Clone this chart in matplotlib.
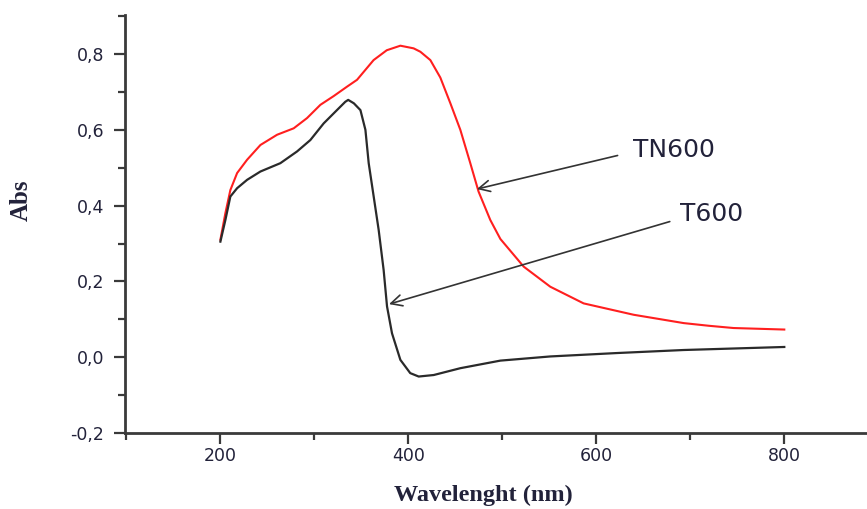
import matplotlib
matplotlib.use("Agg")
import matplotlib.pyplot as plt
from matplotlib.ticker import MultipleLocator, FuncFormatter

# TN600 (red)
tn_x = [200, 205.3, 210.6, 217.8, 228.4, 242.6, 260.3, 278, 292.2, 306.4, 320.5, 334.8, 345.4,
        363, 377, 391.5, 405.6, 412.8, 423.4, 434, 444.7, 455.3, 465.9, 474.7, 487.2, 497.9,
        522.7, 551, 586.5, 639.7, 693, 719.5, 746, 800]
tn_y = [0.310, 0.38, 0.441, 0.486, 0.521, 0.56, 0.587, 0.604, 0.631, 0.666, 0.689, 0.714, 0.732,
        0.784, 0.810, 0.822, 0.815, 0.806, 0.784, 0.738, 0.67, 0.6, 0.512, 0.437, 0.362, 0.312,
        0.239, 0.186, 0.142, 0.112, 0.090, 0.083, 0.077, 0.073]

# T600 (black)
t_x = [200, 205.3, 210.6, 217.8, 228.4, 242.6, 263.8, 281.6, 295.7, 309.9, 324, 332.9, 336,
       342, 349, 354.3, 357.8, 363.1, 368.4, 373.7, 377.3, 382.6, 391.5, 402, 411, 427, 455.3,
       497.9, 551, 622, 693, 800]
t_y = [0.305, 0.362, 0.424, 0.446, 0.468, 0.49, 0.512, 0.543, 0.573, 0.617, 0.652, 0.674, 0.679,
       0.670, 0.652, 0.6, 0.512, 0.424, 0.336, 0.23, 0.134, 0.063, -0.007, -0.042, -0.051, -0.047, -0.029,
       -0.009, 0.002, 0.011, 0.019, 0.027]

x_ticks = [200, 400, 600, 800]
y_ticks = [-0.2, 0.0, 0.2, 0.4, 0.6, 0.8]

TXT = "#22223a"
AXC = "#3a3a3a"

fig = plt.figure(figsize=(8.67, 5.09), dpi=100)
ax = fig.add_axes([125/867, 1-433/509, 1-125/867, (433-15)/509])

ax.plot(tn_x, tn_y, color="#ff1f1f", lw=1.5)
ax.plot(t_x, t_y, color="#2a2a2a", lw=1.6)

ax.set_xlim(98.5, 888)
ax.set_ylim(-0.2, 0.903)

ax.set_xticks(x_ticks)
ax.set_yticks(y_ticks)
ax.xaxis.set_minor_locator(MultipleLocator(100))
ax.yaxis.set_minor_locator(MultipleLocator(0.1))
ax.yaxis.set_major_formatter(FuncFormatter(lambda v, p: f"{v:.1f}".replace(".", ",")))

for s in ["top", "right"]:
    ax.spines[s].set_visible(False)
for s in ["left", "bottom"]:
    ax.spines[s].set_linewidth(2)
    ax.spines[s].set_color(AXC)

ax.tick_params(which="major", direction="out", length=8, width=1.6, color=AXC,
               labelsize=12.5, labelcolor=TXT)
ax.tick_params(axis="y", which="major", pad=7)
ax.tick_params(axis="x", which="major", pad=2)
ax.tick_params(which="minor", direction="out", length=5, width=1.6, color=AXC)
for lab in ax.get_xticklabels() + ax.get_yticklabels():
    lab.set_family("DejaVu Sans")

ax.set_xlabel("Wavelenght (nm)", family="Liberation Serif", fontweight="bold", fontsize=17.5, color=TXT)
ax.set_ylabel("Abs", family="Liberation Serif", fontweight="bold", fontsize=18, color=TXT)
ax.xaxis.set_label_coords((483-125)/(867-125), (433-495)/(433-15))
ax.xaxis.label.set_va("center")
ax.yaxis.set_label_coords((21-125)/(867-125), (433-200)/(433-15))
ax.yaxis.label.set_va("center")

ax.annotate("", xy=(470, 0.442), xytext=(625.5, 0.534),
            arrowprops=dict(arrowstyle="->", color="#333333", lw=1.2, mutation_scale=20))
ax.annotate("", xy=(376.6, 0.138), xytext=(681, 0.36),
            arrowprops=dict(arrowstyle="->", color="#333333", lw=1.2, mutation_scale=20))
ax.text(639.4, 0.546, "TN600", family="DejaVu Sans", fontsize=18, color=TXT, va="center", ha="left")
ax.text(689.4, 0.379, "T600", family="DejaVu Sans", fontsize=18, color=TXT, va="center", ha="left")

fig.savefig("out.png", dpi=100)
